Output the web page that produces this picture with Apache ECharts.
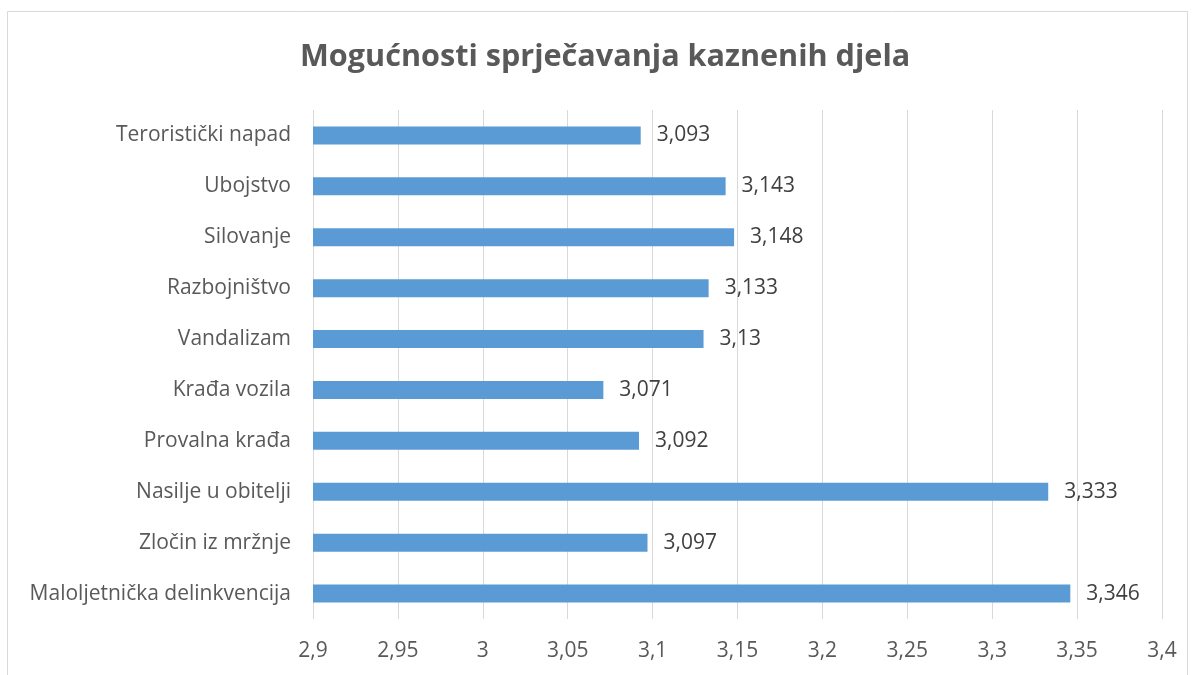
<!DOCTYPE html>
<html>
<head>
<meta charset="utf-8">
<script src="https://cdn.jsdelivr.net/npm/echarts@6/dist/echarts.min.js"></script>
<style>html,body{margin:0;padding:0;background:#fff;}#c{width:1196px;height:675px;}</style>
</head>
<body>
<div id="c"></div>
<script>
const categories = ["Teroristički napad","Ubojstvo","Silovanje","Razbojništvo","Vandalizam","Krađa vozila","Provalna krađa","Nasilje u obitelji","Zločin iz mržnje","Maloljetnička delinkvencija"];
const values = [3.093,3.143,3.148,3.133,3.13,3.071,3.092,3.333,3.097,3.346];
const titleText = "Mogućnosti sprječavanja kaznenih djela";

const fmt = v => String(Math.round(v*1000)/1000).replace('.', ',');
const chart = echarts.init(document.getElementById('c'));
const FONT = '"Open Sans", sans-serif';
chart.setOption({
  animation:false,
  textStyle:{fontFamily:FONT},
  title:{text:titleText,left:295,top:37,textStyle:{fontFamily:FONT,fontSize:30.6,fontWeight:'bold',color:'#595959'}},
  graphic:[{type:'rect',shape:{x:7.5,y:11.5,width:1180,height:700},style:{fill:'none',stroke:'#d9d9d9',lineWidth:1},silent:true}],
  grid:{left:313,right:34,top:110,bottom:56,containLabel:false},
  xAxis:{type:'value',min:2.9,max:3.4,interval:0.05,
    axisLine:{show:false},axisTick:{show:false},
    splitLine:{lineStyle:{color:'#d9d9d9',width:1}},
    axisLabel:{color:'#595959',fontSize:21,margin:22,formatter:v=>fmt(v)}},
  yAxis:{type:'category',data:categories,inverse:true,
    axisLine:{show:false},axisTick:{show:false},
    axisLabel:{color:'#595959',fontSize:21,margin:22}},
  series:[{type:'bar',data:values,barWidth:18,
    itemStyle:{color:'#5b9bd5'},
    label:{show:true,position:'right',distance:16,color:'#404040',fontSize:21,formatter:p=>fmt(p.value)}}]
});
</script>
</body>
</html>
